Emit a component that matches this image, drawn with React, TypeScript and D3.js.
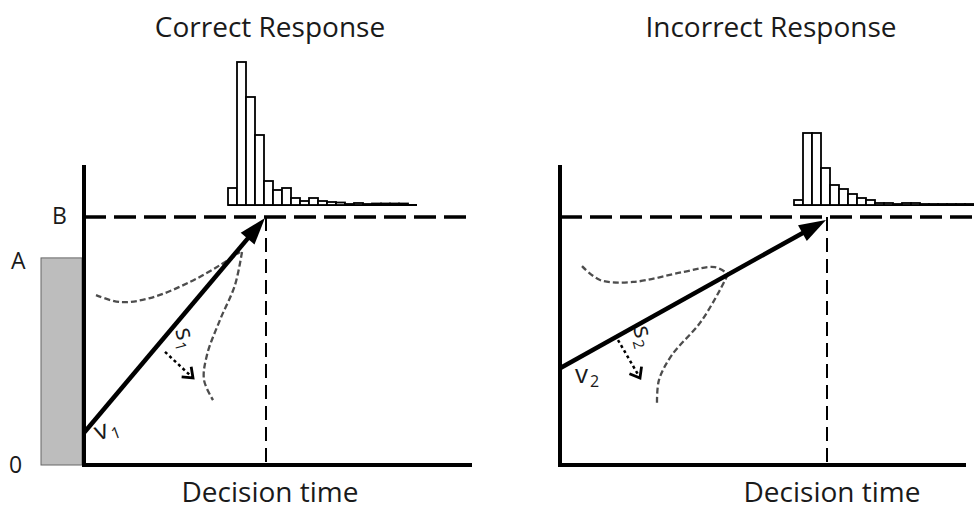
import * as d3 from "d3";

// evidence units: 0 = start, 1 = threshold B
const thresholdB = 1.0;
const startMaxA = 0.835;
const evidenceTop = 1.21;

// time units (arbitrary seconds)
const correctAxisEnd = 1.94;
const incorrectAxisEnd = 2.03;
const correctThresholdEnd = 1.94;
const incorrectThresholdEnd = 2.1;

// RT histograms (bar heights, counts)
const binWidth = 0.045;
const correctBinStart = 0.72;
const incorrectBinStart = 1.17;
const correctCounts = [17, 143, 108, 70, 24, 15, 17, 7, 4, 7, 4, 3, 2.5, 1, 2, 1, 1.5, 1.5, 1.5, 1.5];
const incorrectCounts = [5, 72, 72, 37, 20, 16, 11, 7, 5, 2, 2, 1, 2, 2, 1, 1, 1, 1, 1, 1];

// drift arrows [time, evidence]
const correctDrift: [number, number][] = [[0, 0.13], [0.905, 0.996]];
const incorrectDrift: [number, number][] = [[0, 0.39], [1.33, 0.988]];
const correctRT = 0.91;
const incorrectRT = 1.335;

// s arrows (perpendicular drift variability)
const correctS: [number, number][] = [[0.405, 0.456], [0.545, 0.351]];
const incorrectS: [number, number][] = [[0.29, 0.504], [0.4, 0.351]];

// dashed drift distribution curves
const correctCurveA: [number, number][] = [[0.06, 0.685], [0.18, 0.657], [0.33, 0.673], [0.53, 0.738], [0.68, 0.806], [0.78, 0.859]];
const correctCurveB: [number, number][] = [[0.79, 0.859], [0.755, 0.726], [0.68, 0.585], [0.615, 0.444], [0.6, 0.343], [0.645, 0.262]];
const incorrectCurveA: [number, number][] = [[0.11, 0.802], [0.2, 0.746], [0.365, 0.738], [0.615, 0.778], [0.775, 0.798], [0.84, 0.77]];
const incorrectCurveB: [number, number][] = [[0.84, 0.77], [0.8, 0.706], [0.7, 0.573], [0.56, 0.444], [0.495, 0.343], [0.485, 0.25]];

const font = "'Open Sans', 'Noto Sans', sans-serif";
const ink = "#1a1a1a";

interface PanelProps {
  x0: number;
  title: string;
  titleT: number;
  labelT: number;
  axisEnd: number;
  thresholdEnd: number;
  counts: number[];
  binStart: number;
  drift: [number, number][];
  rt: number;
  s: [number, number][];
  curves: [number, number][][];
  sub: string;
  vRotate: number;
  vPos: [number, number];
  sPos: [number, number];
  sRotate: number;
  showStart: boolean;
}

function Panel(p: PanelProps) {
  const x = d3.scaleLinear().domain([0, 2]).range([p.x0, p.x0 + 400]);
  const y = d3.scaleLinear().domain([0, thresholdB]).range([465, 217]);
  const h = d3.scaleLinear().domain([0, 143]).range([0, 143]);
  const base = y(thresholdB) - 12;

  const line = d3
    .line<[number, number]>()
    .x((d) => x(d[0]))
    .y((d) => y(d[1]))
    .curve(d3.curveCatmullRom);

  // drift arrow
  const ax0 = x(p.drift[0][0]), ay0 = y(p.drift[0][1]);
  const ax1 = x(p.drift[1][0]), ay1 = y(p.drift[1][1]);
  const len = Math.hypot(ax1 - ax0, ay1 - ay0);
  const ux = (ax1 - ax0) / len, uy = (ay1 - ay0) / len;
  const L = 27, W = 9;
  const bx = ax1 - ux * L, by = ay1 - uy * L;
  const head = `${ax1},${ay1} ${bx - uy * W},${by + ux * W} ${bx + uy * W},${by - ux * W}`;

  // s arrow
  const sx0 = x(p.s[0][0]), sy0 = y(p.s[0][1]);
  const sx1 = x(p.s[1][0]), sy1 = y(p.s[1][1]);
  const sl = Math.hypot(sx1 - sx0, sy1 - sy0);
  const vx = (sx1 - sx0) / sl, vy = (sy1 - sy0) / sl;
  const cb = [sx1 - vx * 9, sy1 - vy * 9];
  const chevron = `${cb[0] - vy * 7},${cb[1] + vx * 7} ${sx1},${sy1} ${cb[0] + vy * 7},${cb[1] - vx * 7}`;

  return (
    <g>
      <text x={x(p.titleT)} y={37} textAnchor="middle" fontSize={28} fontFamily={font} fill={ink}>
        {p.title}
      </text>
      <text x={x(p.labelT)} y={502} textAnchor="middle" fontSize={28} fontFamily={font} fill={ink}>
        Decision time
      </text>

      {p.showStart && (
        <g>
          <rect
            x={p.x0 - 43}
            y={y(startMaxA)}
            width={41}
            height={y(0) - y(startMaxA)}
            fill="#bdbdbd"
            stroke="#666"
            strokeWidth={1}
          />
          <text x={11} y={269} fontSize={23} fontFamily={font} fill={ink}>A</text>
          <text x={52} y={224} fontSize={23} fontFamily={font} fill={ink}>B</text>
          <text x={9} y={473} fontSize={23} fontFamily={font} fill={ink}>0</text>
        </g>
      )}

      {/* histogram */}
      <line
        x1={x(p.binStart)}
        x2={x(p.binStart + binWidth * (p.counts.length + 1))}
        y1={base}
        y2={base}
        stroke="#000"
        strokeWidth={2}
      />
      {p.counts.map((c, i) => (
        <rect
          key={i}
          x={x(p.binStart + i * binWidth)}
          y={base - h(c)}
          width={x(binWidth) - x(0)}
          height={h(c)}
          fill="#fff"
          stroke="#000"
          strokeWidth={1.8}
        />
      ))}

      {/* threshold */}
      <line x1={x(0)} x2={x(p.thresholdEnd)} y1={y(thresholdB)} y2={y(thresholdB)} stroke="#000" strokeWidth={3.5} strokeDasharray="22,8" />

      {/* decision time */}
      <line x1={x(p.rt)} x2={x(p.rt)} y1={y(thresholdB)} y2={y(0)} stroke="#000" strokeWidth={2} strokeDasharray="14,7" />

      {/* drift distributions */}
      {p.curves.map((c, i) => (
        <path key={i} d={line(c) ?? ""} fill="none" stroke="#4d4d4d" strokeWidth={2.3} strokeDasharray="6,3" />
      ))}

      {/* drift arrow */}
      <line x1={ax0} y1={ay0} x2={bx + ux * 3} y2={by + uy * 3} stroke="#000" strokeWidth={4.5} />
      <polygon points={head} fill="#000" />

      {/* s arrow */}
      <line x1={sx0} y1={sy0} x2={sx1} y2={sy1} stroke="#000" strokeWidth={2.5} strokeDasharray="3,3" />
      <polyline points={chevron} fill="none" stroke="#000" strokeWidth={2.8} />

      {/* labels */}
      <text
        transform={`translate(${p.vPos[0]},${p.vPos[1]}) rotate(${p.vRotate})`}
        fontSize={26}
        fontFamily={font}
        fill={ink}
      >
        v<tspan dx={2} dy={4} fontSize={16}>{p.sub}</tspan>
      </text>
      <text
        transform={`translate(${p.sPos[0]},${p.sPos[1]}) rotate(${p.sRotate})`}
        fontSize={25}
        fontFamily={font}
        fill={ink}
      >
        s<tspan dx={1} dy={4} fontSize={15}>{p.sub}</tspan>
      </text>

      {/* axes */}
      <line x1={x(0)} x2={x(0)} y1={y(evidenceTop)} y2={y(0) + 2} stroke="#000" strokeWidth={4} />
      <line x1={x(0) - 2} x2={x(p.axisEnd)} y1={y(0)} y2={y(0)} stroke="#000" strokeWidth={4} />
    </g>
  );
}

export default function App() {
  return (
    <svg width={974} height={509} style={{ position: "absolute", left: 0, top: 0, background: "#fff" }}>
      <Panel
        x0={84}
        title="Correct Response"
        titleT={0.93}
        labelT={0.93}
        axisEnd={correctAxisEnd}
        thresholdEnd={correctThresholdEnd}
        counts={correctCounts}
        binStart={correctBinStart}
        drift={correctDrift}
        rt={correctRT}
        s={correctS}
        curves={[correctCurveA, correctCurveB]}
        sub="1"
        vRotate={-20}
        vPos={[98, 441]}
        sPos={[175, 330]}
        sRotate={75}
        showStart={true}
      />
      <Panel
        x0={560}
        title="Incorrect Response"
        titleT={1.055}
        labelT={1.36}
        axisEnd={incorrectAxisEnd}
        thresholdEnd={incorrectThresholdEnd}
        counts={incorrectCounts}
        binStart={incorrectBinStart}
        drift={incorrectDrift}
        rt={incorrectRT}
        s={incorrectS}
        curves={[incorrectCurveA, incorrectCurveB]}
        sub="2"
        vRotate={0}
        vPos={[575, 383]}
        sPos={[633, 328]}
        sRotate={75}
        showStart={false}
      />
    </svg>
  );
}
